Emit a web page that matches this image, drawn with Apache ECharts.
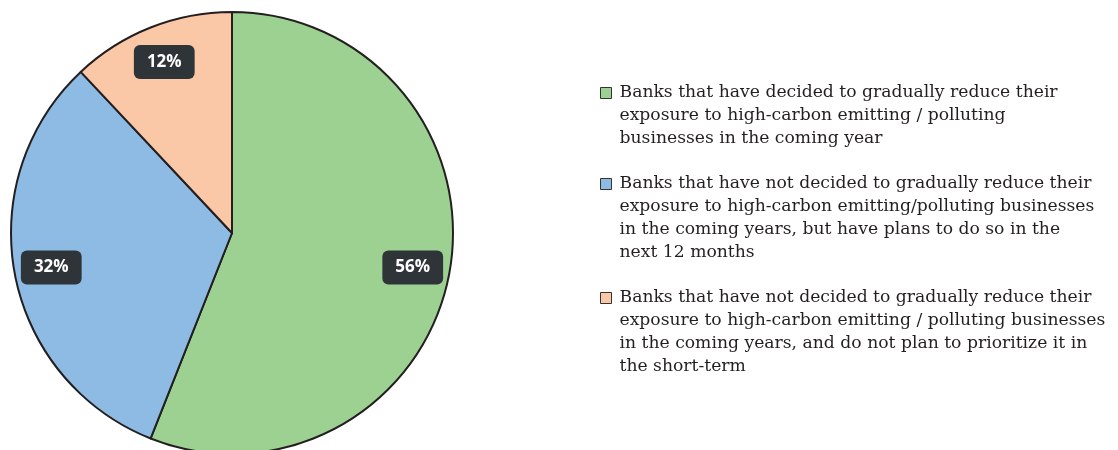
<!DOCTYPE html>
<html>
<head>
<meta charset="utf-8">
<script src="https://cdn.jsdelivr.net/npm/echarts@6/dist/echarts.min.js"></script>
<style>
  html, body { margin: 0; padding: 0; background: #ffffff; }
  #chart { width: 1118px; height: 450px; }
</style>
</head>
<body>
<div id="chart"></div>
<script>
// Share of banks by plans to reduce exposure to high-carbon / polluting businesses
const categories = [
  'Banks that have decided to gradually reduce their\nexposure to high-carbon emitting / polluting\nbusinesses in the coming year',
  'Banks that have not decided to gradually reduce their\nexposure to high-carbon emitting/polluting businesses\nin the coming years, but have plans to do so in the\nnext 12 months',
  'Banks that have not decided to gradually reduce their\nexposure to high-carbon emitting / polluting businesses\nin the coming years, and do not plan to prioritize it in\nthe short-term'
];
const shares = [56, 32, 12];
const colors = ['#9dd191', '#8dbbe4', '#fac7a7'];

const LINE_H = 23;
const pieData = categories.map((name, i) => ({ name, value: shares[i], itemStyle: { color: colors[i] } }));

// Blank lines in front of each legend text put its first line level with the square
const legendFormatter = name => '\n'.repeat(name.split('\n').length - 1) + name;

const chart = echarts.init(document.getElementById('chart'), null, { renderer: 'canvas' });
chart.setOption({
  animation: false,
  backgroundColor: '#ffffff',
  legend: {
    orient: 'vertical',
    left: 600,
    top: 35.5,
    padding: 0,
    itemWidth: 11,
    itemHeight: 11,
    itemGap: -47,
    icon: 'rect',
    selectedMode: false,
    itemStyle: { borderColor: '#333333', borderWidth: 1 },
    formatter: legendFormatter,
    textStyle: {
      fontFamily: 'DejaVu Serif',
      fontSize: 17.2,
      lineHeight: LINE_H,
      color: '#231f20',
      padding: [0, 0, 0, 3]
    },
    data: categories
  },
  series: [
    {
      type: 'pie',
      center: [232, 233],
      radius: [0, 221],
      startAngle: 90,
      clockwise: true,
      silent: true,
      label: { show: false },
      labelLine: { show: false },
      itemStyle: { borderColor: '#231f20', borderWidth: 2 },
      emphasis: { disabled: true },
      data: pieData
    },
    {
      // transparent ring that carries the value labels
      type: 'pie',
      center: [232, 233],
      radius: [141, 221],
      startAngle: 90,
      clockwise: true,
      silent: true,
      z: 3,
      itemStyle: { color: 'rgba(0,0,0,0)', borderWidth: 0 },
      emphasis: { disabled: true },
      labelLine: { show: false },
      label: {
        show: true,
        position: 'inside',
        formatter: '{c}%',
        color: '#ffffff',
        fontFamily: 'Open Sans',
        fontWeight: 'bold',
        fontSize: 17,
        backgroundColor: '#2f3439',
        borderRadius: 6,
        padding: [9, 13, 8, 13]
      },
      data: categories.map((name, i) => ({ name, value: shares[i] }))
    }
  ]
});
</script>
</body>
</html>
